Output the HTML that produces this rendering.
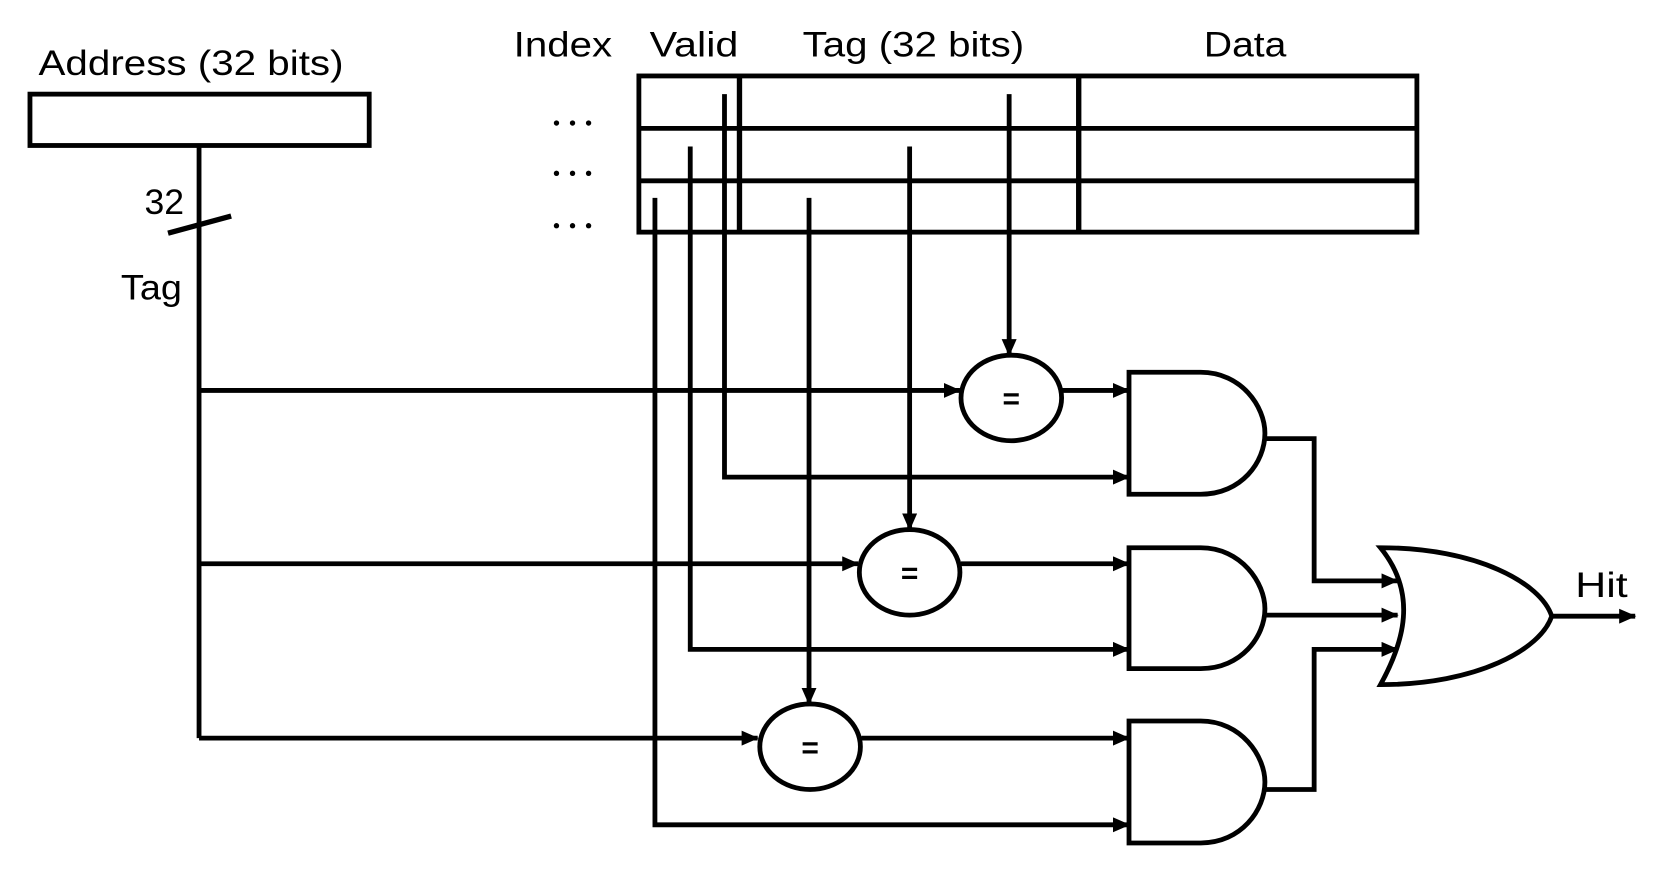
<!DOCTYPE html>
<html><head><meta charset="utf-8"><style>html,body{margin:0;padding:0;background:#fff}svg{display:block}</style></head>
<body>
<svg width="1678" height="874" viewBox="0 0 1568 817" preserveAspectRatio="none" xmlns="http://www.w3.org/2000/svg">
<defs>
<marker id="a" markerWidth="16" markerHeight="14" refX="15" refY="7" orient="auto" markerUnits="userSpaceOnUse" viewBox="0 0 16 14">
<path d="M0,0 L16,7 L0,14 z" fill="#000"/></marker>
</defs>
<g font-family="'Liberation Sans', sans-serif" font-size="33" fill="#000">
<text x="36" y="70" textLength="285" lengthAdjust="spacingAndGlyphs">Address (32 bits)</text>
<text x="480" y="53" textLength="92" lengthAdjust="spacingAndGlyphs">Index</text>
<text x="607" y="53" textLength="83" lengthAdjust="spacingAndGlyphs">Valid</text>
<text x="750" y="53" textLength="207" lengthAdjust="spacingAndGlyphs">Tag (32 bits)</text>
<text x="1125" y="53" textLength="77" lengthAdjust="spacingAndGlyphs">Data</text>
<text x="135" y="200" textLength="37" lengthAdjust="spacingAndGlyphs">32</text>
<text x="113" y="280" textLength="57" lengthAdjust="spacingAndGlyphs">Tag</text>
<text x="1472" y="558" textLength="49" lengthAdjust="spacingAndGlyphs">Hit</text>
</g>
<g fill="#000">
<circle cx="520" cy="115" r="2.5"/><circle cx="535" cy="115" r="2.5"/><circle cx="550" cy="115" r="2.5"/>
<circle cx="520" cy="162" r="2.5"/><circle cx="535" cy="162" r="2.5"/><circle cx="550" cy="162" r="2.5"/>
<circle cx="520" cy="211" r="2.5"/><circle cx="535" cy="211" r="2.5"/><circle cx="550" cy="211" r="2.5"/>
</g>
<g fill="none" stroke="#000" stroke-width="4.5">
<rect x="28" y="88" width="317" height="48"/>
<rect x="597" y="71" width="727" height="146"/>
<line x1="597" y1="120" x2="1324" y2="120"/>
<line x1="597" y1="169" x2="1324" y2="169"/>
<line x1="691" y1="71" x2="691" y2="217" stroke-width="5"/>
<line x1="1008" y1="71" x2="1008" y2="217" stroke-width="5"/>
<line x1="186" y1="136" x2="186" y2="690"/>
<line x1="157" y1="218" x2="216" y2="202" stroke-width="5"/>
<line x1="186" y1="365" x2="897" y2="365" marker-end="url(#a)"/>
<line x1="186" y1="527" x2="802" y2="527" marker-end="url(#a)"/>
<line x1="186" y1="690" x2="708" y2="690" marker-end="url(#a)"/>
<polyline points="677,88 677,446 1055,446" marker-end="url(#a)"/>
<polyline points="645,137 645,607 1055,607" marker-end="url(#a)"/>
<polyline points="612,185 612,771 1055,771" marker-end="url(#a)"/>
<line x1="943" y1="88" x2="943" y2="332" marker-end="url(#a)"/>
<line x1="850" y1="137" x2="850" y2="495" marker-end="url(#a)"/>
<line x1="756" y1="185" x2="756" y2="658" marker-end="url(#a)"/>
<ellipse cx="945" cy="372" rx="47" ry="40"/>
<ellipse cx="850" cy="535" rx="47" ry="40"/>
<ellipse cx="757" cy="698" rx="47" ry="40"/>
<line x1="992" y1="365" x2="1055" y2="365" marker-end="url(#a)"/>
<line x1="898" y1="527" x2="1055" y2="527" marker-end="url(#a)"/>
<line x1="805" y1="690" x2="1055" y2="690" marker-end="url(#a)"/>
<path d="M1055,348 L1122,348 C1160,348 1182,380 1182,405 C1182,432 1160,462 1122,462 L1055,462 Z"/>
<path d="M1055,512 L1122,512 C1160,512 1182,545 1182,569 C1182,595 1160,625 1122,625 L1055,625 Z"/>
<path d="M1055,674 L1122,674 C1160,674 1182,707 1182,731 C1182,757 1160,788 1122,788 L1055,788 Z"/>
<polyline points="1182,410 1228,410 1228,543 1306,543" marker-end="url(#a)"/>
<line x1="1182" y1="575" x2="1306" y2="575" marker-end="url(#a)"/>
<polyline points="1182,738 1228,738 1228,607 1306,607" marker-end="url(#a)"/>
<path d="M1290,512 C1380,512 1440,545 1450,576 C1440,607 1380,640 1290,640 C1312,600 1325,555 1290,512 Z"/>
<line x1="1450" y1="576" x2="1528" y2="576" marker-end="url(#a)"/>
</g>
<g font-family="'Liberation Sans', sans-serif" font-size="28" font-weight="bold" text-anchor="middle">
<text x="945" y="382">=</text>
<text x="850" y="545">=</text>
<text x="757" y="708">=</text>
</g>
</svg>
</body></html>
